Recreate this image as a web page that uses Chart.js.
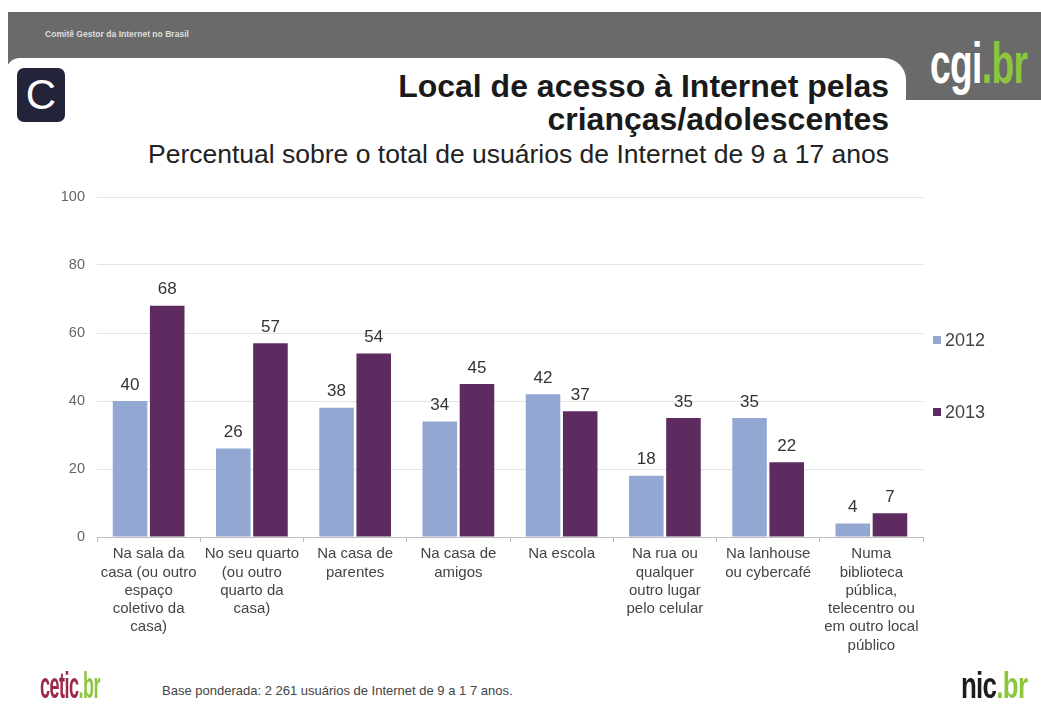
<!DOCTYPE html>
<html lang="pt-BR">
<head>
<meta charset="UTF-8">
<title>Local de acesso à Internet pelas crianças/adolescentes</title>
<script src="https://cdn.jsdelivr.net/npm/chart.js"></script>
<style>
  body { margin:0; width:1041px; height:704px; background:#fff; position:relative; overflow:hidden; font-family:"Liberation Sans", Arial, sans-serif; }
  .band { position:absolute; left:8px; top:12px; width:1033px; height:88px; background:#6a6a6a; }
  .panel { position:absolute; left:6px; top:58px; width:900px; height:120px; background:#fff; border-radius:14px 22px 0 0; }
  .comite { position:absolute; left:45px; top:29px; font-size:9px; color:#dedede; font-weight:bold; transform:scaleX(0.95); transform-origin:left top; }
  .cgi { position:absolute; left:930px; top:34px; font-size:58px; font-weight:bold; color:#fff; letter-spacing:-1px; transform:scaleX(0.64); transform-origin:left top; line-height:1; }
  .cgi span { color:#8cc63e; }
  .cbox { position:absolute; left:17px; top:68px; width:48px; height:54px; background:#23233a; border-radius:7px; color:#fff; font-size:42px; text-align:center; line-height:54px; }
  .t1, .t2, .sub { position:absolute; right:152px; white-space:nowrap; color:#1a1a1a; }
  .t1 { top:68px; font-size:32px; font-weight:bold; }
  .t2 { top:101px; font-size:32px; font-weight:bold; }
  .sub { top:139px; font-size:26.5px; color:#222; }
  #wrap { position:absolute; left:0; top:170px; width:1041px; height:500px; }
  .cetic { position:absolute; left:40px; top:668px; font-size:36px; font-weight:bold; color:#9a2a45; transform:scaleX(0.5); transform-origin:left top; line-height:1; letter-spacing:-1px; }
  .cetic span, .nic span { color:#8cc63e; }
  .base { position:absolute; left:162px; top:683px; font-size:13px; color:#444; }
  .nic { position:absolute; left:961px; top:668px; font-size:36px; font-weight:bold; color:#1c1c1c; transform:scaleX(0.72); transform-origin:left top; line-height:1; letter-spacing:-1px; }
</style>
</head>
<body>
<div class="band"></div>
<div class="panel"></div>
<div class="comite">Comitê Gestor da Internet no Brasil</div>
<div class="cgi">cgi<span>.br</span></div>
<div class="cbox">C</div>
<div class="t1">Local de acesso à Internet pelas</div>
<div class="t2">crianças/adolescentes</div>
<div class="sub">Percentual sobre o total de usuários de Internet de 9 a 17 anos</div>

<div id="wrap"><canvas id="grafico" width="1041" height="500"></canvas></div>

<div class="cetic">cetic<span>.br</span></div>
<div class="base">Base ponderada: 2 261 usuários de Internet de 9 a 1 7 anos.</div>
<div class="nic">nic<span>.br</span></div>

<script>
  const categorias = [
    ["Na sala da", "casa (ou outro", "espaço", "coletivo da", "casa)"],
    ["No seu quarto", "(ou outro", "quarto da", "casa)"],
    ["Na casa de", "parentes"],
    ["Na casa de", "amigos"],
    ["Na escola"],
    ["Na rua ou", "qualquer", "outro lugar", "pelo celular"],
    ["Na lanhouse", "ou cybercafé"],
    ["Numa", "biblioteca", "pública,", "telecentro ou", "em outro local", "público"]
  ];
  const anos = ["2012", "2013"];
  const valores2012 = [40, 26, 38, 34, 42, 18, 35, 4];
  const valores2013 = [68, 57, 54, 45, 37, 35, 22, 7];
  const ticksY = [0, 20, 40, 60, 80, 100];

  // rótulos de valor acima das barras
  const rotulos = {
    id: 'rotulos',
    afterDatasetsDraw(chart) {
      const ctx = chart.ctx;
      ctx.save();
      ctx.font = '17px "Liberation Sans", Arial, sans-serif';
      ctx.fillStyle = '#333';
      ctx.textAlign = 'center';
      ctx.textBaseline = 'middle';
      chart.data.datasets.forEach((ds, i) => {
        chart.getDatasetMeta(i).data.forEach((bar, j) => {
          ctx.fillText(ds.data[j], bar.x, bar.y - 16);
        });
      });
      ctx.restore();
    }
  };

  // legenda à direita
  const legenda = {
    id: 'legenda',
    afterDraw(chart) {
      const ctx = chart.ctx;
      const a = chart.chartArea;
      const ys = [a.top + 143, a.top + 215];
      ctx.save();
      ctx.font = '18px "Liberation Sans", Arial, sans-serif';
      ctx.textBaseline = 'middle';
      chart.data.datasets.forEach((ds, i) => {
        ctx.fillStyle = ds.backgroundColor;
        ctx.fillRect(a.right + 10, ys[i] - 4, 8, 8);
        ctx.fillStyle = '#444';
        ctx.fillText(ds.label, a.right + 22, ys[i] + 1);
      });
      ctx.restore();
    }
  };

  new Chart(document.getElementById('grafico'), {
    type: 'bar',
    data: {
      labels: categorias,
      datasets: [
        { label: anos[0], data: valores2012, backgroundColor: '#92a8d3' },
        { label: anos[1], data: valores2013, backgroundColor: '#5d2b60' }
      ]
    },
    options: {
      responsive: false,
      animation: false,
      datasets: { bar: { categoryPercentage: 0.72, barPercentage: 0.93 } },
      layout: { padding: { top: 27, right: 118, left: 0, bottom: 0 } },
      plugins: { legend: { display: false }, tooltip: { enabled: false } },
      scales: {
        x: {
          afterFit(s) { s.height = 133; },
          grid: { drawOnChartArea: false, tickLength: 5, color: '#bdbdbd' },
          border: { color: '#bdbdbd' },
          ticks: {
            color: '#444', maxRotation: 0, autoSkip: false, padding: 3,
            font: { family: '"Liberation Sans", Arial, sans-serif', size: 15, lineHeight: 1.22 }
          }
        },
        y: {
          min: 0, max: 100,
          afterFit(s) { s.width = 97; },
          afterBuildTicks(s) { s.ticks = ticksY.map(v => ({ value: v })); },
          grid: { color: '#e3e3e3', drawTicks: false },
          border: { display: false },
          ticks: {
            color: '#666', padding: 12,
            font: { family: '"Liberation Sans", Arial, sans-serif', size: 14.5 }
          }
        }
      }
    },
    plugins: [rotulos, legenda]
  });
</script>
</body>
</html>
